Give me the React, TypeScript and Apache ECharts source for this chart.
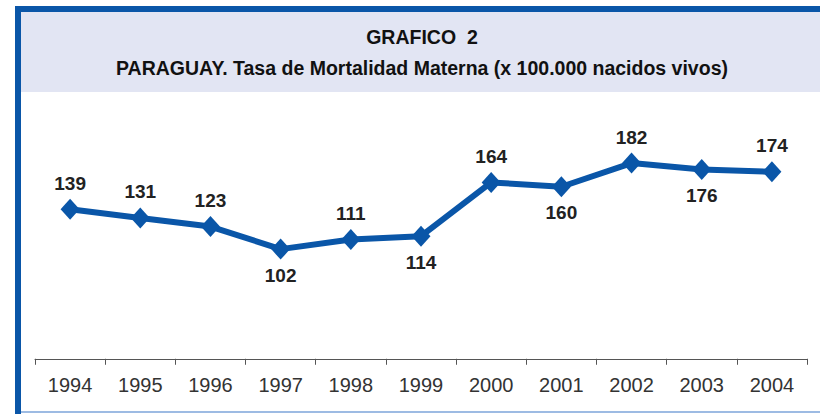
import React, { useEffect, useRef } from "react";
import * as echarts from "echarts";

const years = ["1994", "1995", "1996", "1997", "1998", "1999", "2000", "2001", "2002", "2003", "2004"];
const rates = [139, 131, 123, 102, 111, 114, 164, 160, 182, 176, 174];
const labelSides = ["top", "top", "top", "bottom", "top", "bottom", "top", "bottom", "top", "bottom", "top"];

const titleText = "GRAFICO  2";
const subtitleText = "PARAGUAY. Tasa de Mortalidad Materna (x 100.000 nacidos vivos)";

export default function App() {
  const ref = useRef<HTMLDivElement>(null);
  useEffect(() => {
    if (!ref.current) return;
    const chart = echarts.init(ref.current, null, { renderer: "svg" });
    const blue = "#0A56A8";
    chart.setOption({
      animation: false,
      backgroundColor: "#ffffff",
      graphic: [
        { type: "rect", shape: { x: 21, y: 12, width: 799, height: 80 }, style: { fill: "#E2E5F3" }, z: -10 },
        { type: "rect", shape: { x: 15, y: 6, width: 805, height: 6 }, style: { fill: blue } },
        { type: "rect", shape: { x: 15, y: 6, width: 6, height: 408 }, style: { fill: blue } },
        { type: "rect", shape: { x: 21, y: 411, width: 799, height: 2 }, style: { fill: "#9DBBE3" } },
        {
          type: "text",
          x: 422,
          y: 37,
          style: {
            text: titleText,
            fill: "#111",
            font: "bold 19.5px 'Liberation Sans', Arial, sans-serif",
            align: "center",
            verticalAlign: "middle",
          },
        },
        {
          type: "text",
          x: 422,
          y: 68,
          style: {
            text: subtitleText,
            fill: "#111",
            font: "bold 19.5px 'Liberation Sans', Arial, sans-serif",
            align: "center",
            verticalAlign: "middle",
          },
        },
      ],
      grid: { left: 35, right: 13, top: 90, bottom: 54 },
      xAxis: {
        type: "category",
        data: years,
        boundaryGap: true,
        axisLine: { lineStyle: { color: "#555", width: 1 } },
        axisTick: { show: true, length: 6, lineStyle: { color: "#555" } },
        axisLabel: {
          color: "#333",
          fontSize: 20,
          fontFamily: "'Liberation Sans', Arial, sans-serif",
          margin: 13,
        },
        splitLine: { show: false },
      },
      yAxis: {
        type: "value",
        min: -3,
        max: 250,
        show: false,
        splitLine: { show: false },
      },
      series: [
        {
          type: "line",
          data: rates.map((v, i) => ({
            value: v,
            label: { position: labelSides[i] },
          })),
          symbol: "diamond",
          symbolSize: [19, 21],
          itemStyle: { color: blue },
          lineStyle: { color: blue, width: 6 },
          label: {
            show: true,
            distance: 6,
            color: "#222",
            fontSize: 19,
            fontWeight: "bold",
            fontFamily: "'Liberation Sans', Arial, sans-serif",
          },
        },
      ],
    });
    return () => chart.dispose();
  }, []);
  return <div ref={ref} style={{ width: 820, height: 416, position: "absolute", left: 0, top: 0 }} />;
}
